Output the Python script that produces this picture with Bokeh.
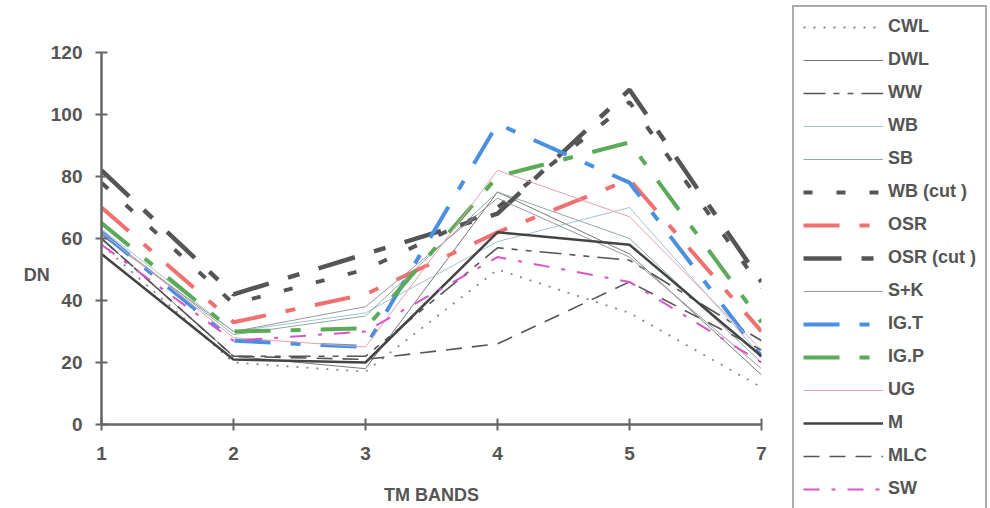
from bokeh.plotting import figure
from bokeh.layouts import row, column
from bokeh.models import Legend, LegendItem, Range1d, FixedTicker
from bokeh.embed import file_html
from bokeh.resources import INLINE

bands = ["1", "2", "3", "4", "5", "7"]

CWL = [58, 20, 17, 50, 36, 12]
DWL = [60, 22, 18, 75, 55, 16]
WW = [60, 22, 22, 57, 53, 27]
WB = [63, 30, 36, 59, 70, 22]
SB = [62, 29, 35, 75, 60, 20]
WB_cut = [78, 39, 50, 70, 104, 44]
OSR = [70, 33, 42, 62, 79, 30]
OSR_cut = [82, 42, 55, 68, 108, 46]
SK = [61, 30, 38, 73, 54, 18]
IGT = [62, 27, 25, 97, 78, 22]
IGP = [65, 30, 31, 80, 91, 33]
UG = [62, 28, 25, 82, 67, 24]
M = [55, 21, 20, 62, 58, 22]
MLC = [60, 22, 21, 26, 46, 24]
SW = [58, 27, 30, 54, 46, 20]

x = list(range(len(bands)))

p = figure(width=791, height=508, output_backend="svg", toolbar_location=None,
           x_range=Range1d(0, len(bands) - 1), y_range=Range1d(0, 120),
           min_border_left=101, min_border_right=30, min_border_top=52,
           min_border_bottom=84)
p.outline_line_color = None
p.xgrid.grid_line_color = None
p.ygrid.grid_line_color = None

# legend panel: a second figure with the same series kept out of view
q = figure(width=199, height=508, output_backend="svg", toolbar_location=None,
           x_range=Range1d(1000, 1001), y_range=Range1d(1000, 1001),
           x_axis_location=None, y_axis_location=None,
           min_border_left=0, min_border_right=0, min_border_top=0,
           min_border_bottom=0)
q.outline_line_color = None
q.xgrid.grid_line_color = None
q.ygrid.grid_line_color = None

series = [
    ("CWL", CWL, "#888888", 1.8, "2 8"),
    ("DWL", DWL, "#777777", 1, "solid"),
    ("WW", WW, "#555555", 1.6, "22 8 6 8 6 8"),
    ("WB", WB, "#9fc4d0", 1, "solid"),
    ("SB", SB, "#8fa8a0", 1, "solid"),
    ("WB (cut )", WB_cut, "#555555", 4, "9 24"),
    ("OSR", OSR, "#f07070", 4, "36 20 10 20"),
    ("OSR (cut )", OSR_cut, "#555555", 4.5, "38 20 12 20"),
    ("S+K", SK, "#999999", 1, "solid"),
    ("IG.T", IGT, "#4a90e2", 4, "36 20 10 20"),
    ("IG.P", IGP, "#5aaa5a", 4, "36 20 10 20"),
    ("UG", UG, "#e4a0aa", 1, "solid"),
    ("M", M, "#444444", 2.5, "solid"),
    ("MLC", MLC, "#555555", 1.6, "16 10"),
    ("SW", SW, "#d855c8", 2, "16 12 4 12"),
]

items = []
for name, vals, col, lw, dash in series:
    p.line(x, vals, line_color=col, line_width=lw, line_dash=dash)
    r2 = q.line(x, vals, line_color=col, line_width=lw, line_dash=dash)
    items.append(LegendItem(label=name, renderers=[r2]))

legend = Legend(items=items, location=(1, -2), orientation="vertical",
                glyph_width=80, glyph_height=20, label_height=20, spacing=12,
                padding=9, margin=0, label_standoff=5,
                label_text_font="Liberation Sans", label_text_font_style="bold",
                label_text_font_size="18px", label_text_color="#555555",
                border_line_color="#555555", border_line_width=2,
                background_fill_alpha=1)
q.add_layout(legend, "center")

for ax in (p.xaxis[0], p.yaxis[0]):
    ax.axis_line_color = "#666666"
    ax.axis_line_width = 2.5
    ax.major_tick_line_color = "#666666"
    ax.major_tick_line_width = 2
    ax.major_tick_in = 6
    ax.major_tick_out = 6
    ax.minor_tick_line_color = None
    ax.major_label_text_font = "Liberation Sans"
    ax.major_label_text_font_style = "bold"
    ax.major_label_text_font_size = "19px"
    ax.major_label_text_color = "#555555"
    ax.axis_label_text_font = "Liberation Sans"
    ax.axis_label_text_font_style = "bold"
    ax.axis_label_text_font_size = "18px"
    ax.axis_label_text_color = "#555555"

p.xaxis.ticker = FixedTicker(ticks=x)
p.xaxis.major_label_overrides = {i: b for i, b in enumerate(bands)}
p.xaxis.major_label_standoff = 16
p.xaxis.axis_label = "TM BANDS"
p.xaxis.axis_label_standoff = 22

p.yaxis.ticker = FixedTicker(ticks=[0, 20, 40, 60, 80, 100, 120])
p.yaxis.major_label_standoff = 13
p.yaxis.axis_label = "\n\n\nDN"
p.yaxis.axis_label_orientation = "horizontal"
p.yaxis.axis_label_standoff = -2

open("out.html", "w").write(file_html(row(column(p), column(q)), INLINE))
